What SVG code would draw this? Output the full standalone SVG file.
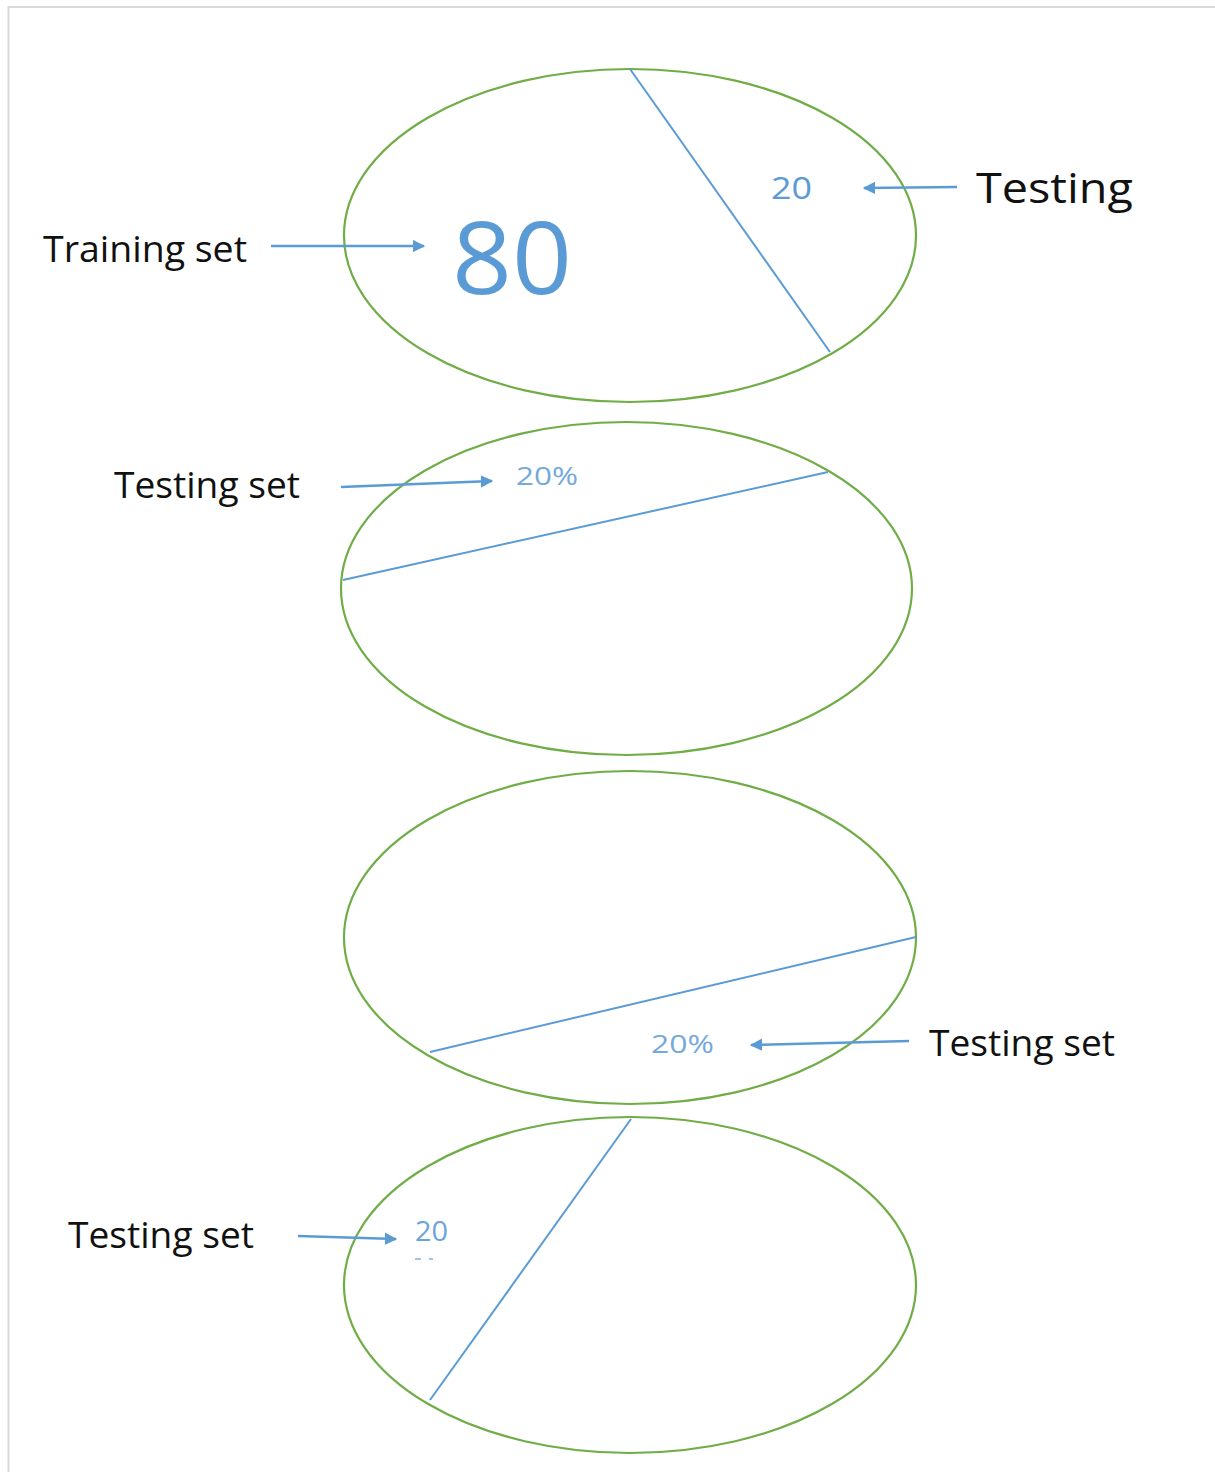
<svg xmlns="http://www.w3.org/2000/svg" width="1215" height="1472" viewBox="0 0 1215 1472">
  <style>
    .ring { fill: none; stroke: #70ad47; stroke-width: 2.2; }
    .cut { stroke: #5b9bd5; stroke-width: 2; fill: none; }
    .arrow { stroke: #5b9bd5; stroke-width: 2.5; fill: none; marker-end: url(#head); }
    .label { font-family: "Open Sans", "Liberation Sans", sans-serif; fill: #111; }
    .num { font-family: "Open Sans", "Liberation Sans", sans-serif; fill: #5b9bd5; }
  </style>
  <defs>
    <marker id="head" viewBox="0 0 10 10" refX="9" refY="5" markerWidth="5" markerHeight="5" orient="auto" markerUnits="strokeWidth">
      <path d="M0,0 L10,5 L0,10 z" fill="#5b9bd5"/>
    </marker>
  </defs>

  <rect width="1215" height="1472" fill="#ffffff"/>
  <!-- frame -->
  <path d="M8.5,1472 V7 H1215" fill="none" stroke="#d9d9d9" stroke-width="2"/>

  <!-- split 1: 80 / 20 -->
  <g id="split1">
    <ellipse class="ring" cx="630" cy="235.5" rx="286" ry="166.5"/>
    <line class="cut" x1="630" y1="69" x2="830" y2="352"/>
    <text class="num" x="452" y="294" font-size="100" textLength="120" lengthAdjust="spacingAndGlyphs">80</text>
    <text class="num" x="771" y="198.5" font-size="31" textLength="41" lengthAdjust="spacingAndGlyphs">20</text>
  </g>

  <!-- split 2 -->
  <g id="split2">
    <ellipse class="ring" cx="626.5" cy="588.5" rx="285.5" ry="166.5"/>
    <line class="cut" x1="343" y1="580" x2="828" y2="472"/>
    <text class="num" x="516" y="485" font-size="25" textLength="62" lengthAdjust="spacingAndGlyphs" opacity="0.85">20%</text>
  </g>

  <!-- split 3 -->
  <g id="split3">
    <ellipse class="ring" cx="630" cy="937.5" rx="286" ry="166.5"/>
    <line class="cut" x1="430" y1="1052" x2="916" y2="937"/>
    <text class="num" x="651" y="1052.5" font-size="25" textLength="63" lengthAdjust="spacingAndGlyphs" opacity="0.85">20%</text>
  </g>

  <!-- split 4 -->
  <g id="split4">
    <ellipse class="ring" cx="630" cy="1285" rx="286" ry="168"/>
    <line class="cut" x1="631" y1="1119" x2="430" y2="1400"/>
    <text class="num" x="415" y="1240.5" font-size="28" textLength="33" lengthAdjust="spacingAndGlyphs" opacity="0.9">20</text>
    <rect x="415" y="1258" width="6" height="2" fill="#5b9bd5" opacity="0.6"/>
    <rect x="429" y="1258" width="4" height="2" fill="#5b9bd5" opacity="0.6"/>
  </g>

  <!-- callout labels -->
  <g id="labels">
    <text class="label" x="43" y="262" font-size="36" textLength="204" lengthAdjust="spacingAndGlyphs">Training set</text>
    <text class="label" x="976" y="202.5" font-size="42" textLength="157" lengthAdjust="spacingAndGlyphs">Testing</text>
    <text class="label" x="114" y="498" font-size="36" textLength="186" lengthAdjust="spacingAndGlyphs">Testing set</text>
    <text class="label" x="929" y="1055.5" font-size="36" textLength="186" lengthAdjust="spacingAndGlyphs">Testing set</text>
    <text class="label" x="68" y="1248" font-size="36" textLength="186" lengthAdjust="spacingAndGlyphs">Testing set</text>
  </g>

  <!-- connectors -->
  <g id="connectors">
    <line class="arrow" x1="271" y1="246" x2="424" y2="246"/>
    <line class="arrow" x1="957" y1="187" x2="864" y2="188"/>
    <line class="arrow" x1="341" y1="487" x2="492" y2="481"/>
    <line class="arrow" x1="909" y1="1041" x2="751" y2="1045"/>
    <line class="arrow" x1="298" y1="1236" x2="396" y2="1239"/>
  </g>
</svg>
